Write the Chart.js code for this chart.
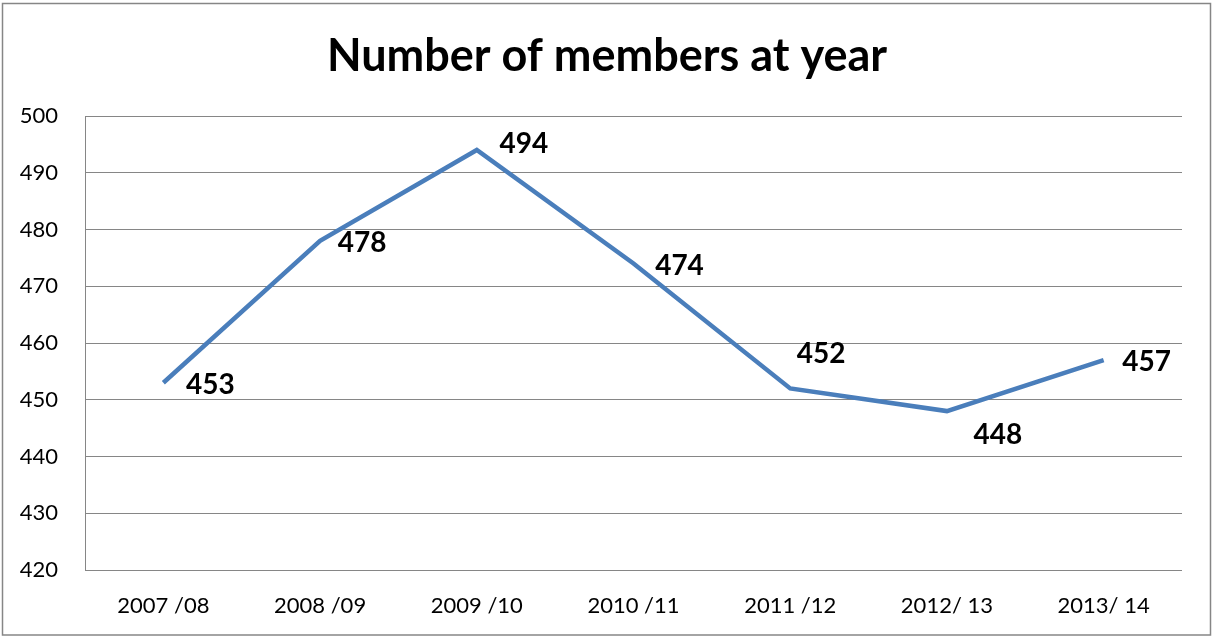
<!DOCTYPE html>
<html>
<head>
<meta charset="utf-8">
<script src="https://cdn.jsdelivr.net/npm/chart.js@4.4.1/dist/chart.umd.min.js"></script>
<style>
  html, body { margin: 0; padding: 0; background: #ffffff; }
  #wrap { width: 1212px; height: 637px; position: relative; }
</style>
</head>
<body>
<div id="wrap"><canvas id="chart" width="1212" height="637"></canvas></div>
<script>
// Season labels and member counts
const seasons = ['2007 /08', '2008 /09', '2009 /10', '2010 /11', '2011 /12', '2012/ 13', '2013/ 14'];
const members = [453, 478, 494, 474, 452, 448, 457];
const yTicks = [420, 430, 440, 450, 460, 470, 480, 490, 500];

const chartTitle = 'Number of members at year';
const FONT = 'Lato, "Open Sans", sans-serif';

// Where each value label sits relative to its point (pixels)
const labelOffsets = [
  [47, 2], [42, 2], [47, -6], [46, 2], [31, -34], [51, 24], [43, 2]
];

const decorations = {
  id: 'decorations',
  afterDraw(chart) {
    const ctx = chart.ctx;
    ctx.save();
    // outer frame
    ctx.strokeStyle = '#868686';
    ctx.lineWidth = 1.5;
    ctx.strokeRect(2.5, 3.5, chart.width - 4, chart.height - 5.5);
    // title
    ctx.fillStyle = '#000000';
    ctx.font = 'bold 45px ' + FONT;
    ctx.textAlign = 'center';
    ctx.textBaseline = 'middle';
    ctx.fillText(chartTitle, 607, 56);
    // value labels
    const meta = chart.getDatasetMeta(0);
    ctx.font = 'bold 28px ' + FONT;
    meta.data.forEach((pt, i) => {
      const [dx, dy] = labelOffsets[i];
      ctx.fillText(String(members[i]), pt.x + dx, pt.y + dy);
    });
    ctx.restore();
  }
};

new Chart(document.getElementById('chart'), {
  type: 'line',
  data: {
    labels: seasons,
    datasets: [{
      data: members,
      borderColor: '#4a7ebb',
      borderWidth: 4.5,
      pointRadius: 0,
      tension: 0,
      fill: false
    }]
  },
  options: {
    responsive: false,
    animation: false,
    devicePixelRatio: 1,
    layout: { padding: { top: 116, right: 30, left: 0, bottom: 0 } },
    plugins: {
      legend: { display: false },
      tooltip: { enabled: false },
      title: { display: false }
    },
    scales: {
      x: {
        offset: true,
        grid: { display: false, drawTicks: false },
        border: { display: false },
        ticks: {
          color: '#000000',
          font: { family: FONT, size: 22 },
          padding: 23,
          maxRotation: 0,
          autoSkip: false
        },
        afterFit(scale) { scale.height = 67; }
      },
      y: {
        min: 420,
        max: 500,
        afterBuildTicks(scale) { scale.ticks = yTicks.map(v => ({ value: v })); },
        grid: { color: '#868686', lineWidth: 1, drawTicks: false },
        border: { display: true, color: '#868686', width: 1 },
        ticks: {
          color: '#000000',
          font: { family: FONT, size: 22 },
          padding: 27
        },
        afterFit(scale) { scale.width = 85; }
      }
    }
  },
  plugins: [decorations]
});
</script>
</body>
</html>
